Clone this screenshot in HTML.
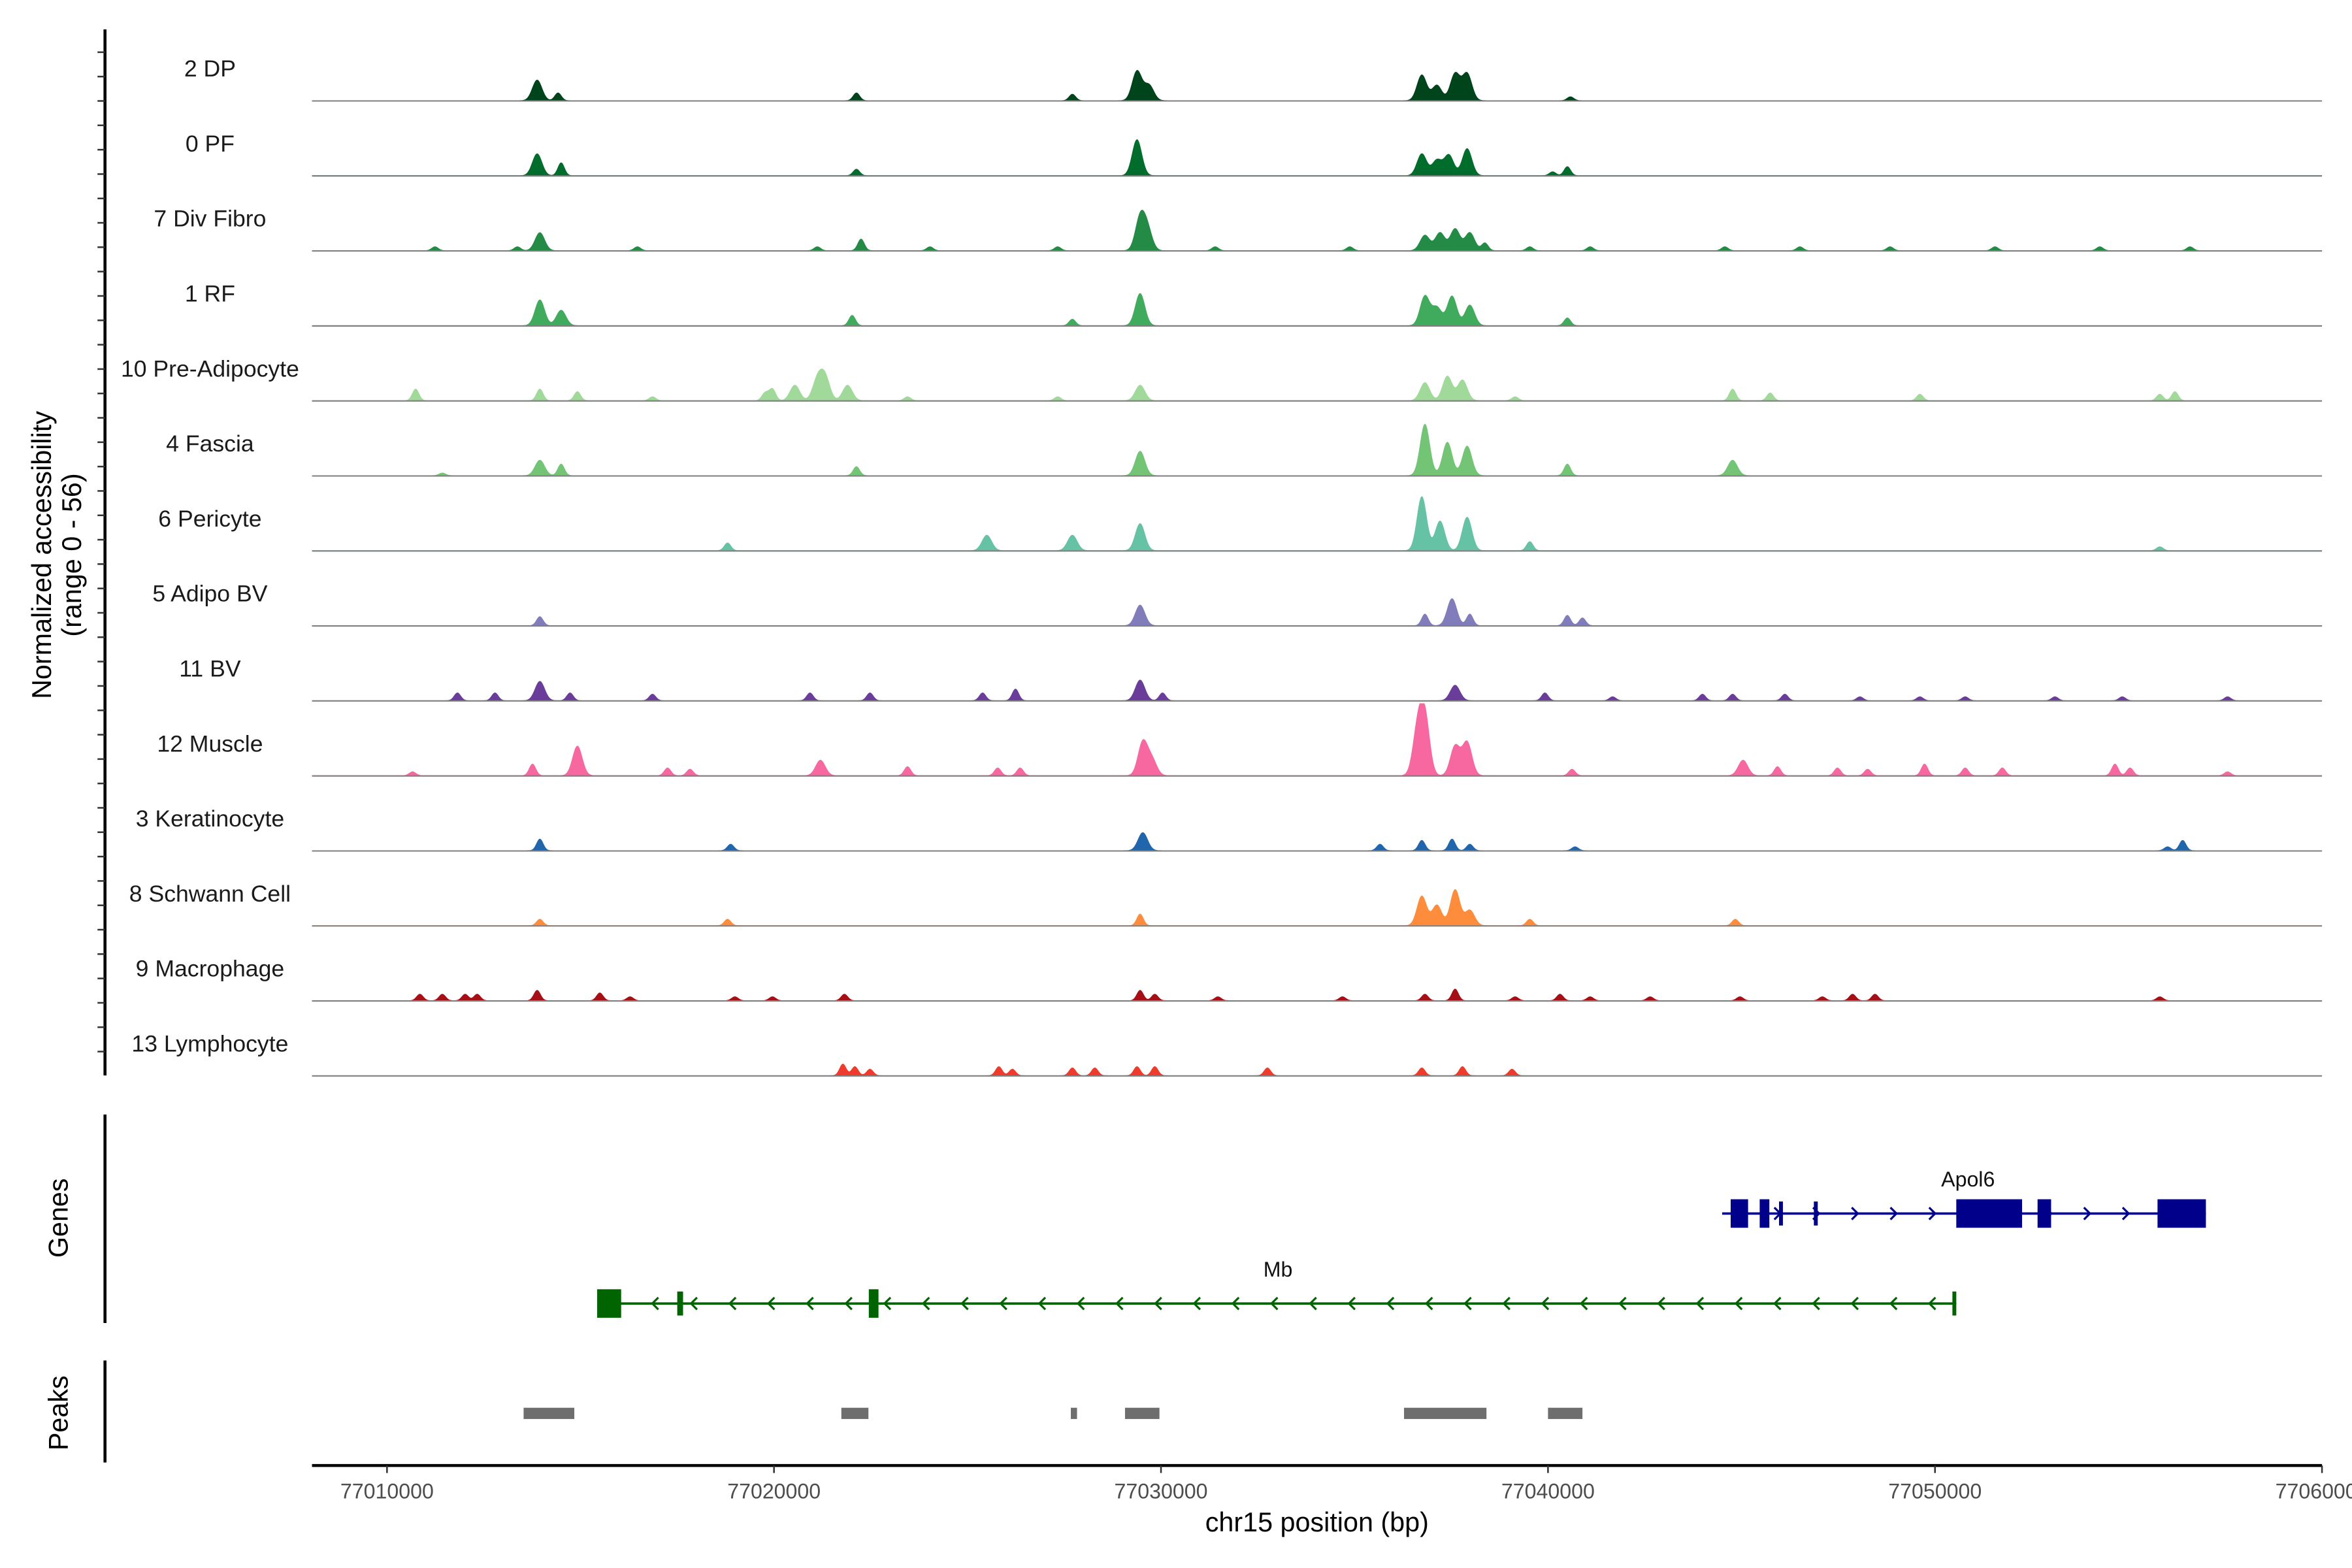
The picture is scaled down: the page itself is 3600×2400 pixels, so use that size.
<!DOCTYPE html>
<html><head><meta charset="utf-8"><style>
html,body{margin:0;padding:0;background:#fff;}
svg{display:block;font-family:"Liberation Sans",Arial,sans-serif;}
</style></head><body>
<svg id="chart" width="3600" height="2400" viewBox="0 0 1568 1045.33" preserveAspectRatio="none" xmlns="http://www.w3.org/2000/svg">
<rect width="1568" height="1045.33" fill="#fff"/>
<g id="tracks"></g>
<g id="genes"></g>
<g id="peaks"></g>
<g id="axes"></g>
</svg>
<script>
// ---- data (positions in kb offset from 77000000, heights in normalized accessibility) ----
const trackNames = ["2 DP","0 PF","7 Div Fibro","1 RF","10 Pre-Adipocyte","4 Fascia","6 Pericyte","5 Adipo BV","11 BV","12 Muscle","3 Keratinocyte","8 Schwann Cell","9 Macrophage","13 Lymphocyte"];
const trackColors = ["#00441b","#006d2c","#238b45","#41ab5d","#a1d99b","#74c476","#66c2a4","#807dba","#6a3d9a","#f768a1","#2166ac","#fd8d3c","#a50f15","#ef3b2c"];
const pk0 = [[13.88,16],[14.42,6],[22.13,6],[27.71,5],[29.38,23],[29.69,12],[36.74,20],[37.13,12],[37.60,21],[37.91,21],[40.58,3]];
const pk1 = [[13.88,17],[14.50,10],[22.13,5],[29.38,28],[36.74,17],[37.13,12],[37.44,16],[37.91,21],[40.12,3],[40.50,7]];
const pk2 = [[11.24,3],[13.37,3],[13.95,14],[16.47,3],[21.12,3],[22.25,9],[24.03,3],[27.33,3],[29.46,25],[29.65,16],[31.40,3],[34.88,3],[36.82,12],[37.21,14],[37.60,17],[37.98,14],[38.37,6],[39.53,3],[41.09,3],[44.57,3],[46.51,3],[48.84,3],[51.55,3],[54.26,3],[56.59,3]];
const pk3 = [[13.95,20],[14.50,12],[22.02,8],[27.71,5],[29.46,25],[36.82,23],[37.13,14],[37.52,23],[37.98,16],[40.50,6]];
const pk4 = [[10.74,9],[13.95,9],[14.92,7],[16.86,3],[19.77,6],[19.96,9],[20.54,12],[21.12,16],[21.32,18],[21.90,12],[23.45,3],[27.33,3],[29.46,12],[36.82,14],[37.40,19],[37.79,16],[39.15,3],[44.77,9],[45.74,6],[49.61,5],[55.81,5],[56.20,7]];
const pk5 = [[11.43,2],[13.95,12],[14.50,9],[22.13,7],[29.46,19],[36.82,40],[37.40,26],[37.91,23],[40.50,9],[44.77,12]];
const pk6 = [[18.80,6],[25.50,12],[27.71,12],[29.46,21],[36.74,42],[37.21,23],[37.91,26],[39.53,7],[55.81,3]];
const pk7 = [[13.95,7],[29.46,16],[36.82,9],[37.52,21],[37.98,9],[40.50,8],[40.89,6]];
const pk8 = [[11.82,6],[12.79,6],[13.95,15],[14.73,6],[16.86,5],[20.93,6],[22.48,6],[25.39,6],[26.24,9],[29.46,16],[30.04,6],[37.60,12],[39.92,6],[41.67,3],[43.99,5],[44.77,5],[46.12,5],[48.06,3],[49.61,3],[50.78,3],[53.10,3],[54.84,3],[57.56,3]];
const pk9 = [[10.66,3],[13.76,9],[14.92,23],[17.25,6],[17.83,5],[21.20,12],[23.45,7],[25.78,6],[26.36,6],[29.53,26],[29.77,12],[36.63,35],[36.82,44],[37.60,23],[37.91,26],[40.62,5],[45.04,12],[45.93,7],[47.48,6],[48.26,5],[49.73,9],[50.78,6],[51.74,6],[54.65,9],[55.04,6],[57.56,3]];
const pk10 = [[13.95,9],[18.88,5],[29.53,14],[35.66,5],[36.74,8],[37.52,9],[37.98,5],[40.70,3],[56.01,3],[56.40,8]];
const pk11 = [[13.95,5],[18.80,5],[29.46,9],[36.74,23],[37.13,16],[37.60,28],[37.98,12],[39.53,5],[44.84,5]];
const pk12 = [[10.85,5],[11.43,5],[12.02,5],[12.33,5],[13.88,8],[15.50,6],[16.28,3],[18.99,3],[19.96,3],[21.82,5],[29.46,8],[29.84,5],[31.47,3],[34.69,3],[36.82,5],[37.60,9],[39.15,3],[40.31,5],[41.09,3],[42.64,3],[44.96,3],[47.09,3],[47.87,5],[48.45,5],[55.81,3]];
const pk13 = [[21.78,9],[22.09,7],[22.48,5],[25.81,7],[26.16,5],[27.71,6],[28.29,6],[29.38,7],[29.84,7],[32.75,6],[36.74,6],[37.79,7],[39.07,5]];
const trackPeaks = [pk0,pk1,pk2,pk3,pk4,pk5,pk6,pk7,pk8,pk9,pk10,pk11,pk12,pk13];
const xTicks = [77010000,77020000,77030000,77040000,77050000,77060000];
const xTickLabels = ["77010000","77020000","77030000","77040000","77050000","77060000"];
const peakStarts = [13.53,21.74,27.67,29.07,36.28,40.00];
const peakEnds   = [14.84,22.44,27.83,29.96,38.41,40.89];
const apol6Exons = [[44.72,45.17],[45.47,45.72],[45.97,46.07],[46.87,46.97],[50.55,52.25],[52.65,53.00],[55.75,57.00]];
const apol6Span = [44.50,57.00];
const mbExons = [[15.43,16.05],[17.50,17.65],[22.45,22.70],[50.45,50.55]];
const mbSpan = [15.43,50.55];

// ---- scales ----
const X0 = 208, X1 = 1548, KB0 = 8.062, KB1 = 60;
function xs(kb){ return X0 + (kb-KB0)/(KB1-KB0)*(X1-X0); }
function xbp(bp){ return xs((bp-77000000)/1000); }
const YMAX = 56, TRACK_PX = 48;
function ys(v, base){ return base - v/YMAX*TRACK_PX; }
const NS = "http://www.w3.org/2000/svg";
function mk(tag, attrs, parent){ const e=document.createElementNS(NS,tag); for(const k in attrs) e.setAttribute(k,attrs[k]); parent.appendChild(e); return e; }

// ---- tracks ----
const gT = document.getElementById('tracks');
trackNames.forEach((name,i)=>{
  const base = 67 + i*50;
  const g = mk('g',{},gT);
  
  
  const lbl = mk('text',{x:140,y:base-16,'text-anchor':'middle','font-size':15.5,fill:'#1a1a1a'},g);
  lbl.textContent = name;
  
  
  const peaks = trackPeaks[i];
  let d = 'M'+X0+','+base;
  for(let px=X0; px<=X1; px+=0.5){
    let v=0;
    for(const p of peaks){
      const dx = px - xs(p[0]);
      const s = p[1] > 10 ? 3.2 : 2.2;
      v += p[1]*Math.exp(-dx*dx/(2*s*s));
    }
    v = Math.min(v, YMAX);
    d += ' L'+px.toFixed(1)+','+ys(v,base).toFixed(2);
  }
  d += ' L'+X1+','+base+' Z';
  const area = mk('path',{d:d,fill:trackColors[i],stroke:trackColors[i],'stroke-width':0.3},g);
  
  
  const bl = mk('line',{x1:X0,x2:X1,y1:base+0.3,y2:base+0.3,stroke:'#7f7f7f','stroke-width':0.9},g);
  
  
});

// ---- genes ----
const gG = document.getElementById('genes');
function drawGene(name, span, exons, y, color, dir, lx){
  const g = mk('g',{},gG);
  
  
  mk('line',{x1:xs(span[0]),x2:xs(span[1]),y1:y,y2:y,stroke:color,'stroke-width':1.6},g);
  for(let x=xs(span[0])+12; x<xs(span[1])-6; x+=25.8){
    const a = dir>0 ? 'M'+(x-3)+','+(y-4)+' L'+(x+1)+','+y+' L'+(x-3)+','+(y+4)
                    : 'M'+(x+3)+','+(y-4)+' L'+(x-1)+','+y+' L'+(x+3)+','+(y+4);
    mk('path',{d:a,fill:'none',stroke:color,'stroke-width':1.4},g);
  }
  exons.forEach(e=>{
    const w = xs(e[1])-xs(e[0]);
    const h = w>5 ? 19 : 16;
    const r = mk('rect',{x:xs(e[0]),y:y-h/2,width:Math.max(w,2.5),height:h,fill:color},g);
    
    
  });
  const t = mk('text',{x:lx,y:y-18,'text-anchor':'middle','font-size':14,fill:'#111'},g);
  t.textContent = name;
  
  
}
drawGene('Apol6', apol6Span, apol6Exons, 809, '#00008b', 1, 1312);
drawGene('Mb', mbSpan, mbExons, 869, '#006400', -1, 852);

// ---- peaks ----
const gP = document.getElementById('peaks');
peakStarts.forEach((s,i)=>{
  const r = mk('rect',{x:xs(s),y:938.5,width:Math.max(xs(peakEnds[i])-xs(s),3.5),height:7.5,fill:'#6e6e6e'},gP);
  
  
});

// ---- axes ----
const gA = document.getElementById('axes');
const la = mk('line',{x1:70,x2:70,y1:19.6,y2:717,stroke:'#000','stroke-width':2},gA);


for(let y=34.8; y<=716; y+=16.25){ mk('line',{x1:65,x2:70,y1:y,y2:y,stroke:'#333','stroke-width':1.1},gA); }
const yt = mk('text',{transform:'translate(34,370) rotate(-90)','text-anchor':'middle','font-size':18,fill:'#000'},gA);


mk('tspan',{x:0,dy:0},yt).textContent='Normalized accessibility';
mk('tspan',{x:0,dy:20},yt).textContent='(range 0 - 56)';
const lg = mk('line',{x1:70,x2:70,y1:743,y2:882,stroke:'#000','stroke-width':2},gA);


const tg = mk('text',{transform:'translate(45,812) rotate(-90)','text-anchor':'middle','font-size':18,fill:'#000'},gA);
tg.textContent='Genes';


const lp = mk('line',{x1:70,x2:70,y1:907,y2:975,stroke:'#000','stroke-width':2},gA);


const tp = mk('text',{transform:'translate(45,942) rotate(-90)','text-anchor':'middle','font-size':18,fill:'#000'},gA);
tp.textContent='Peaks';


const xl = mk('line',{x1:X0,x2:X1,y1:977,y2:977,stroke:'#000','stroke-width':2},gA);


xTicks.forEach((t,i)=>{
  const x = xbp(t);
  mk('line',{x1:x,x2:x,y1:977,y2:982,stroke:'#333','stroke-width':1.1},gA);
  const tx = mk('text',{x:x,y:999,'text-anchor':'middle','font-size':14,fill:'#4d4d4d'},gA);
  tx.textContent = xTickLabels[i];
  
  
});
const xt = mk('text',{x:878,y:1021,'text-anchor':'middle','font-size':18,fill:'#000'},gA);
xt.textContent='chr15 position (bp)';


</script>
</body></html>
